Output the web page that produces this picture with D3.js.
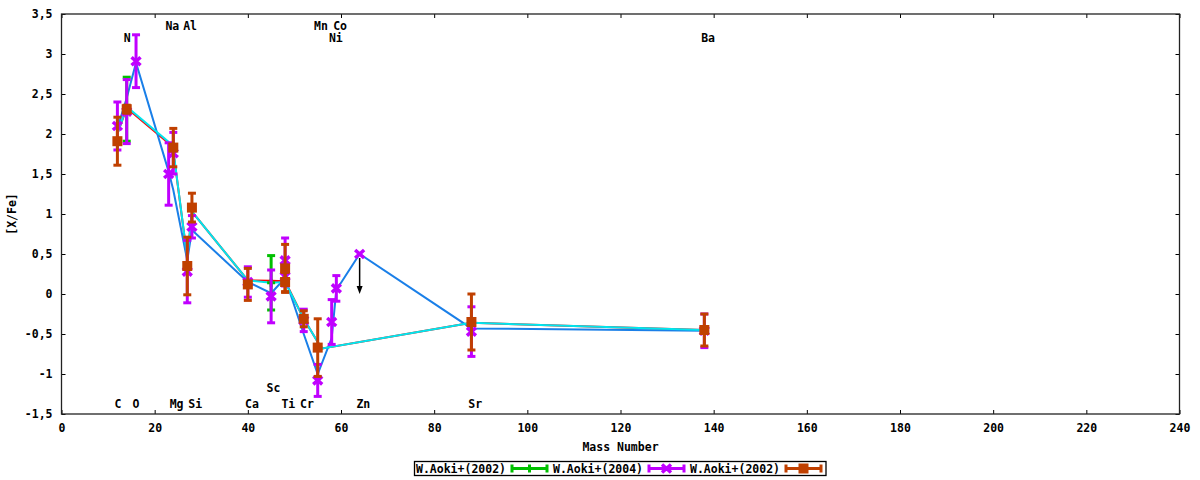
<!DOCTYPE html>
<html>
<head>
<meta charset="utf-8">
<script src="https://cdn.jsdelivr.net/npm/d3@7"></script>
<style>
  body { margin: 0; background: #fff; }
  text { font-family: "DejaVu Sans Mono", monospace; font-weight: bold; font-size: 11.5px; fill: #000; }
</style>
</head>
<body>
<div id="chart"></div>
<script>
// axis ticks
const xTicks = [0, 20, 40, 60, 80, 100, 120, 140, 160, 180, 200, 220, 240];
const yTicks = [-1.5, -1, -0.5, 0, 0.5, 1, 1.5, 2, 2.5, 3, 3.5];

// model lines (no key entry)
const redMass  = [12, 14, 23, 24, 27, 28, 40, 45, 48, 52, 55, 56, 88, 138];
const redVal   = [2.0, 2.325, 1.885, 1.79, 0.45, 1.03, 0.17, 0.165, 0.16, -0.31, -0.6, -0.68, -0.36, -0.45];
const blueMass = [12, 14, 16, 23, 24, 27, 28, 40, 45, 48, 52, 55, 58, 59, 64, 88, 138];
const blueVal  = [2.07, 2.45, 2.89, 1.53, 1.3, 0.42, 0.8, 0.15, 0.01, 0.2, -0.5, -1.0, -0.55, 0.05, 0.5, -0.43, -0.46];
const cyanMass = [12, 14, 23, 24, 27, 28, 40, 45, 48, 52, 55, 56, 88, 138];
const cyanVal  = [2.0, 2.34, 1.9, 1.8, 0.45, 1.03, 0.17, 0.14, 0.15, -0.31, -0.6, -0.68, -0.36, -0.45];

// observations
const greenMass = [14, 45];
const greenVal  = [2.31, 0.14];
const greenErr  = [0.40, 0.34];

const purpleMass = [12, 14, 16, 23, 24, 27, 28, 40, 45, 48, 48, 52, 55, 58, 59, 64, 88, 138];
const purpleVal  = [2.1, 2.28, 2.91, 1.5, 1.76, 0.28, 0.84, 0.15, -0.03, 0.42, 0.22, -0.33, -1.08, -0.35, 0.07, 0.5, -0.47, -0.46];
const purpleErr  = [0.3, 0.4, 0.33, 0.39, 0.26, 0.39, 0.14, 0.19, 0.33, 0.28, 0.12, 0.14, 0.2, 0.28, 0.16, 0, 0.31, 0.21];

const orangeMass = [12, 14, 24, 27, 28, 40, 48, 48, 52, 55, 88, 138];
const orangeVal  = [1.91, 2.31, 1.83, 0.35, 1.08, 0.12, 0.32, 0.15, -0.31, -0.67, -0.35, -0.45];
const orangeErr  = [0.30, 0.05, 0.24, 0.36, 0.18, 0.2, 0.3, 0.12, 0.1, 0.36, 0.35, 0.2];

// upper limit (Zn)
const limitMass = [64];
const limitFrom = [0.5];
const limitTo   = [0.0];

// element labels
const labelText = ["N", "Na", "Al", "Mn", "Co", "Ni", "Ba", "C", "O", "Mg", "Si", "Ca", "Sc", "Ti", "Cr", "Zn", "Sr"];
const labelX    = [14.1, 23.8, 27.6, 55.7, 59.8, 58.9, 138.8, 12.1, 16.0, 24.7, 28.7, 40.9, 45.5, 48.7, 52.7, 64.8, 88.8];
const labelY    = [3.2, 3.35, 3.35, 3.35, 3.35, 3.2, 3.2, -1.37, -1.37, -1.37, -1.37, -1.37, -1.17, -1.37, -1.37, -1.37, -1.37];

const keyNames  = ["W.Aoki+(2002)", "W.Aoki+(2004)", "W.Aoki+(2002)"];
const keyColors = ["#00c000", "#c000ff", "#c04000"];

let width = 1200, height = 480;
let svg = d3.select("#chart").append("svg")
    .attr("width", width)
    .attr("height", height);

let x = d3.scaleLinear().domain([0, 240]).range([61.5, 1179.5]);
let y = d3.scaleLinear().domain([-1.5, 3.5]).range([414, 14]);

// decimal comma on the y labels
let yFmt = d => String(d).replace(".", ",");

// axes, ticks pointing inward
svg.append("g")
    .attr("transform", `translate(0,${y(-1.5)})`)
    .call(d3.axisBottom(x).tickValues(xTicks).tickFormat(d => d).tickSizeInner(-4).tickSizeOuter(0).tickPadding(10))
    .call(g => g.select(".domain").remove());
svg.append("g")
    .attr("transform", `translate(0,${y(3.5)})`)
    .call(d3.axisTop(x).tickValues(xTicks).tickFormat("").tickSizeInner(-4).tickSizeOuter(0))
    .call(g => g.select(".domain").remove());
svg.append("g")
    .attr("transform", `translate(${x(0)},0)`)
    .call(d3.axisLeft(y).tickValues(yTicks).tickFormat(yFmt).tickSizeInner(-4).tickSizeOuter(0).tickPadding(9))
    .call(g => g.select(".domain").remove());
svg.append("g")
    .attr("transform", `translate(${x(240)},0)`)
    .call(d3.axisRight(y).tickValues(yTicks).tickFormat("").tickSizeInner(-4).tickSizeOuter(0))
    .call(g => g.select(".domain").remove());
svg.selectAll(".tick line").attr("stroke", "#000");
svg.selectAll(".tick text").attr("font-family", null).attr("font-size", null);

svg.append("rect")
    .attr("x", x(0)).attr("y", y(3.5))
    .attr("width", x(240) - x(0)).attr("height", y(-1.5) - y(3.5))
    .attr("fill", "none").attr("stroke", "#222").attr("stroke-width", 1.3);

svg.append("text").attr("x", (x(0) + x(240)) / 2).attr("y", 451)
    .attr("text-anchor", "middle").text("Mass Number");
svg.append("text").attr("transform", "translate(16,214) rotate(-90)")
    .attr("text-anchor", "middle").text("[X/Fe]");

// model lines
let line = d3.line().x(d => x(d[0])).y(d => y(d[1]));
[[redMass, redVal, "#ff0000"], [blueMass, blueVal, "#1a7fe8"], [cyanMass, cyanVal, "#00e6ee"]].forEach(s => {
    svg.append("path")
        .datum(d3.zip(s[0], s[1]))
        .attr("d", line)
        .attr("fill", "none")
        .attr("stroke", s[2])
        .attr("stroke-width", 2);
});

// error bars
function drawBars(mass, val, err, color, marker) {
    let g = svg.append("g");
    let data = d3.zip(mass, val, err);
    data.forEach(d => {
        let cx = x(d[0]);
        if (d[2] > 0) {
            g.append("line").attr("x1", cx).attr("x2", cx)
                .attr("y1", y(d[1] + d[2])).attr("y2", y(d[1] - d[2]))
                .attr("stroke", color).attr("stroke-width", 3);
            [d[1] + d[2], d[1] - d[2]].forEach(v => {
                g.append("line").attr("x1", cx - 4).attr("x2", cx + 4)
                    .attr("y1", y(v)).attr("y2", y(v))
                    .attr("stroke", color).attr("stroke-width", 3);
            });
        }
        marker(g, cx, y(d[1]), color);
    });
}
function plusMark(g, cx, cy, color) {
    g.append("path").attr("d", `M${cx - 4},${cy}H${cx + 4}M${cx},${cy - 4}V${cy + 4}`)
        .attr("stroke", color).attr("stroke-width", 3);
}
function crossMark(g, cx, cy, color) {
    g.append("path").attr("d", `M${cx - 4.5},${cy - 4}L${cx + 4.5},${cy + 4}M${cx - 4.5},${cy + 4}L${cx + 4.5},${cy - 4}`)
        .attr("stroke", color).attr("stroke-width", 3.5);
}
function squareMark(g, cx, cy, color) {
    g.append("rect").attr("x", cx - 5).attr("y", cy - 5).attr("width", 10).attr("height", 10)
        .attr("fill", color);
}

drawBars(greenMass, greenVal, greenErr, keyColors[0], plusMark);
drawBars(purpleMass, purpleVal, purpleErr, keyColors[1], crossMark);
drawBars(orangeMass, orangeVal, orangeErr, keyColors[2], squareMark);

// upper limit arrow
d3.zip(limitMass, limitFrom, limitTo).forEach(d => {
    let cx = x(d[0]);
    svg.append("line").attr("x1", cx).attr("x2", cx)
        .attr("y1", y(d[1]) + 4).attr("y2", y(d[2]) - 6)
        .attr("stroke", "#000").attr("stroke-width", 1.5);
    svg.append("path")
        .attr("d", `M${cx - 3},${y(d[2]) - 8}L${cx + 3},${y(d[2]) - 8}L${cx},${y(d[2])}Z`)
        .attr("fill", "#000");
});

// element labels
svg.append("g").selectAll("text")
    .data(d3.zip(labelText, labelX, labelY))
    .join("text")
    .attr("x", d => x(d[1]))
    .attr("y", d => y(d[2]))
    .attr("dy", "0.35em")
    .attr("text-anchor", "middle")
    .text(d => d[0]);

// key
let key = svg.append("g");
key.append("rect").attr("x", 414.5).attr("y", 461.5).attr("width", 411.5).attr("height", 14)
    .attr("fill", "none").attr("stroke", "#000").attr("stroke-width", 1.3);
let markers = [plusMark, crossMark, squareMark];
keyNames.forEach((name, i) => {
    let x0 = 416 + i * 137;
    let ky = 468.5;
    key.append("text").attr("x", x0).attr("y", ky).attr("dy", "0.35em").text(name);
    let sx0 = x0 + 96, sx1 = x0 + 131;
    key.append("path").attr("d", `M${sx0},${ky}H${sx1}M${sx0},${ky - 4}V${ky + 4}M${sx1},${ky - 4}V${ky + 4}`)
        .attr("stroke", keyColors[i]).attr("stroke-width", 3).attr("fill", "none");
    markers[i](key, (sx0 + sx1) / 2, ky, keyColors[i]);
});
</script>
</body>
</html>
